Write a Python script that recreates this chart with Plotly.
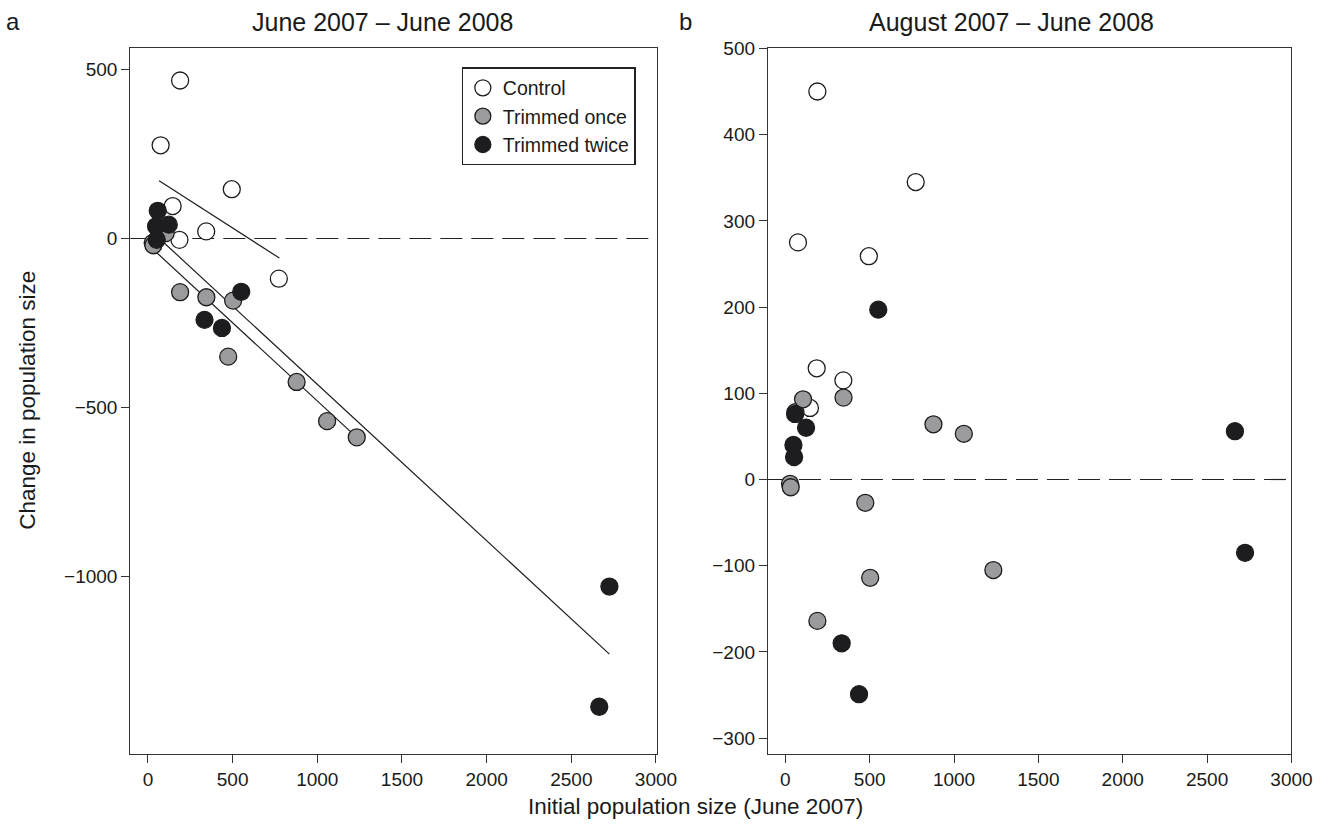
import plotly.graph_objects as go

# ---------------- data ----------------
groups = ["Control", "Trimmed once", "Trimmed twice"]

ctrl_x = [190, 75, 495, 146, 344, 186, 773, 60]
ctrl_a = [468, 276, 146, 96, 21, -4, -119, 30]      # June 2007 - June 2008
ctrl_b = [450, 275, 259, 83, 115, 129, 345, 78]     # August 2007 - June 2008

once_x = [28, 32, 105, 190, 345, 474, 503, 878, 1058, 1233]
once_a = [-13, -20, 16, -159, -174, -350, -184, -425, -541, -589]
once_b = [-5, -9, 93, -164, 95, -27, -114, 64, 53, -105]

twice_x = [48, 52, 58, 123, 334, 437, 551, 2665, 2725]
twice_a = [36, -4, 82, 41, -241, -265, -158, -1387, -1031]
twice_b = [40, 26, 76, 60, -190, -249, 197, 56, -85]

# regression lines (panel a)
fit_ctrl_x = [66, 776]
fit_ctrl_y = [171, -58]
fit_once_x = [28, 1233]
fit_once_y = [-31, -589]
fit_twice_x = [48, 2725]
fit_twice_y = [9, -1231]

xticks = [0, 500, 1000, 1500, 2000, 2500, 3000]
yticks_a = [-1000, -500, 0, 500]
yticks_b = [-300, -200, -100, 0, 100, 200, 300, 400, 500]

title_a = "June 2007 – June 2008"
title_b = "August 2007 – June 2008"
xlabel = "Initial population size (June 2007)"
ylabel = "Change in population size"

# ---------------- style ----------------
W, H = 1329, 824
FONT = "Liberation Sans, Arial, Helvetica, sans-serif"
INK = "#1d1d1f"
TXT = "#1a1a1a"
fills = {"Control": "#ffffff", "Trimmed once": "#9b9b9d", "Trimmed twice": "#1d1d1f"}
MS = 17

fig = go.Figure()

def pts(x, y, name, xa, ya, show):
    fig.add_trace(go.Scatter(
        x=x, y=y, mode="markers", name=name, showlegend=show,
        xaxis=xa, yaxis=ya,
        marker=dict(size=MS, color=fills[name], line=dict(color=INK, width=1.3)),
    ))

def fit(x, y, xa, ya):
    fig.add_trace(go.Scatter(
        x=x, y=y, mode="lines", showlegend=False, xaxis=xa, yaxis=ya,
        line=dict(color=INK, width=1.2), hoverinfo="skip",
    ))

# panel a
fit(fit_ctrl_x, fit_ctrl_y, "x", "y")
fit(fit_once_x, fit_once_y, "x", "y")
fit(fit_twice_x, fit_twice_y, "x", "y")
pts(ctrl_x, ctrl_a, "Control", "x", "y", True)
pts(once_x, once_a, "Trimmed once", "x", "y", True)
pts(twice_x, twice_a, "Trimmed twice", "x", "y", True)
# panel b
pts(ctrl_x, ctrl_b, "Control", "x2", "y2", False)
pts(once_x, once_b, "Trimmed once", "x2", "y2", False)
pts(twice_x, twice_b, "Trimmed twice", "x2", "y2", False)

# pixel positions -> paper fractions
def px(v):
    return ((v - 0.8) / 0.984) / W

def py(v):
    return 1 - ((v - 9.6) / 0.9875) / H

ydom = [py(753), py(48)]

axis_common = dict(
    showline=True, mirror=True, linecolor="#333333", linewidth=1.2,
    ticks="outside", ticklen=8, tickwidth=1.2, tickcolor="#333333",
    showgrid=False, zeroline=False,
    tickfont=dict(family=FONT, size=19, color=TXT),
)

def minus(vals):
    return [("−" + str(-v)) if v < 0 else str(v) for v in vals]

fig.update_layout(
    width=W, height=H,
    margin=dict(l=0, r=0, t=0, b=0),
    paper_bgcolor="white", plot_bgcolor="white",
    font=dict(family=FONT, color=TXT),
    xaxis=dict(domain=[px(131), px(657)], range=[-104, 3005],
               tickvals=xticks, anchor="y", **axis_common),
    yaxis=dict(domain=ydom, range=[-1526, 563], tickvals=yticks_a,
               ticktext=minus(yticks_a), anchor="x", **axis_common),
    xaxis2=dict(domain=[px(768), px(1291)], range=[-103, 3000],
                tickvals=xticks, anchor="y2", **axis_common),
    yaxis2=dict(domain=ydom, range=[-318, 500], tickvals=yticks_b,
                ticktext=minus(yticks_b), anchor="x2", **axis_common),
    legend=dict(
        x=px(462), y=py(67), xanchor="left", yanchor="top",
        bgcolor="white", bordercolor="#222222", borderwidth=1.2,
        font=dict(family=FONT, size=19.5, color=TXT),
        itemsizing="trace", tracegroupgap=0,
        entrywidth=150, entrywidthmode="pixels",
    ),
    showlegend=True,
)

# dashed zero lines
for xr, yr in [("x domain", "y"), ("x2 domain", "y2")]:
    fig.add_shape(type="line", xref=xr, yref=yr, x0=0, x1=1, y0=0, y1=0,
                  line=dict(color="#222222", width=1.2, dash="22px,9px"), layer="below")

ann = [
    dict(text="a", x=px(14), y=py(21), size=24),
    dict(text="b", x=px(686), y=py(21), size=24),
    dict(text=title_a, x=px(383), y=py(22), size=25),
    dict(text=title_b, x=px(1011), y=py(22), size=25),
    dict(text=xlabel, x=px(696), y=py(806), size=22.5),
]
for a in ann:
    fig.add_annotation(text=a["text"], x=a["x"], y=a["y"], xref="paper", yref="paper",
                       showarrow=False, xanchor="center", yanchor="middle",
                       font=dict(family=FONT, size=a["size"], color=TXT))
fig.add_annotation(text=ylabel, x=px(28), y=py(400), xref="paper", yref="paper",
                   showarrow=False, textangle=-90, xanchor="center", yanchor="middle",
                   font=dict(family=FONT, size=22.5, color=TXT))

fig.write_html("out.html")
